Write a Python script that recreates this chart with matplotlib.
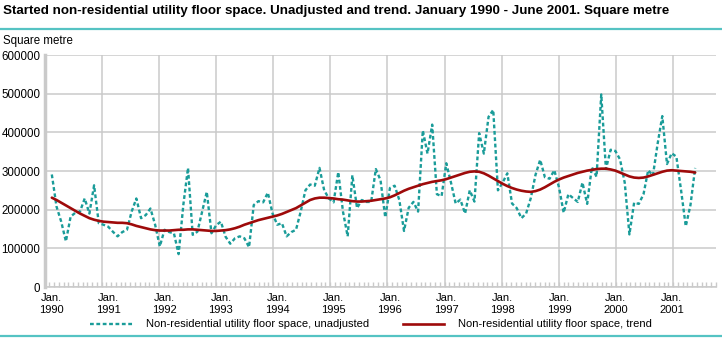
import matplotlib
matplotlib.use("Agg")
import matplotlib.pyplot as plt
from matplotlib import font_manager
from matplotlib.lines import Line2D
import numpy as np

# monthly values, 1000 square metre, January 1990 - June 2001
unadjusted = [
    291, 208, 169, 118, 182, 192, 195, 229, 190, 263, 165, 161,   # 1990
    156, 143, 131, 142, 148, 195, 229, 178, 186, 203, 161, 105,   # 1991
    148, 142, 139, 85, 212, 308, 135, 143, 195, 246, 139, 160,    # 1992
    169, 130, 112, 126, 131, 126, 103, 212, 222, 219, 244, 190,   # 1993
    161, 165, 131, 142, 148, 195, 250, 265, 262, 308, 250, 229,   # 1994
    219, 297, 195, 131, 289, 204, 225, 220, 220, 305, 276, 180,   # 1995
    256, 262, 225, 145, 205, 220, 195, 405, 345, 420, 240, 235,   # 1996
    320, 270, 216, 226, 190, 250, 221, 398, 345, 440, 458, 250,   # 1997
    270, 294, 216, 204, 178, 190, 230, 290, 329, 284, 280, 302,   # 1998
    258, 192, 240, 230, 220, 270, 215, 310, 285, 498, 305, 355,   # 1999
    352, 330, 270, 136, 218, 215, 240, 302, 288, 370, 442, 318,   # 2000
    346, 337, 250, 157, 212, 308,                                 # 2001
]
trend = [
    231, 225, 218, 211, 204, 197, 190, 184, 178, 174, 171, 169,
    168, 167, 166, 166, 165, 162, 158, 155, 152, 149, 147, 146,
    146, 146, 147, 148, 148, 149, 149, 148, 147, 146, 145, 145,
    146, 147, 149, 152, 156, 161, 165, 169, 173, 176, 179, 182,
    185, 189, 194, 199, 204, 211, 218, 225, 229, 231, 231, 230,
    229, 227, 226, 224, 222, 221, 221, 222, 223, 225, 227, 229,
    232, 237, 243, 249, 254, 258, 262, 266, 269, 272, 274, 276,
    279, 283, 287, 291, 295, 298, 299, 298, 294, 288, 281, 274,
    267, 261, 256, 252, 249, 247, 246, 248, 252, 258, 265, 272,
    278, 283, 287, 291, 295, 298, 301, 303, 305, 306, 306, 304,
    301, 296, 291, 286, 283, 282, 283, 286, 290, 294, 298, 301,
    302, 301, 300, 299, 298, 296,
]
years = list(range(1990, 2002))
yTicks = [0, 100000, 200000, 300000, 400000, 500000, 600000]

titleText = ("Started non-residential utility floor space. Unadjusted and trend. "
             "January 1990 - June 2001. Square metre")
labelUnadj = "Non-residential utility floor space, unadjusted"
labelTrend = "Non-residential utility floor space, trend"

TEAL = '#1a9c99'
RED = '#9e0a0a'
GRID = '#cacaca'
RULE = '#55c3c3'


def pickFont(*names):
    for n in names:
        try:
            font_manager.findfont(n, fallback_to_default=False)
            return n
        except ValueError:
            pass
    return 'DejaVu Sans'


sansFont = pickFont('Liberation Sans', 'Arial')
narrowFont = pickFont('Liberation Sans Narrow', 'Liberation Sans')
plt.rcParams['font.family'] = sansFont

W, H = 722, 353
fig = plt.figure(figsize=(W / 100, H / 100), dpi=100)
left, right, top, bottom = 44.5, 716, 55, 287
ax = fig.add_axes([left / W, 1 - bottom / H, (right - left) / W, (bottom - top) / H])

months = np.arange(len(unadjusted))
unadjVals = np.array(unadjusted) * 1000
trendVals = np.array(trend) * 1000

# the year grid of the original is a little wider than the data spacing
gridStep = 12.17
gridStart = -1.56
ax.set_xlim(gridStart, 137.9)
ax.set_ylim(0, 600000)

gridPos = gridStart + gridStep * np.arange(1, len(years))
ax.vlines(gridPos, 0, 600000, color=GRID, lw=1.1, zorder=1)
ax.set_yticks(yTicks)
ax.set_yticklabels([str(v) for v in yTicks], fontsize=8.3)
ax.yaxis.grid(True, color=GRID, lw=1.1, zorder=1)
ax.set_axisbelow(True)

ax.plot(months, unadjVals, color=TEAL, lw=1.7, dashes=(1.6, 1.1), zorder=3)
ax.plot(months, trendVals, color=RED, lw=1.9, zorder=4, solid_capstyle='round')

ax.set_xticks([12 * k for k in range(len(years))])
ax.set_xticklabels(['Jan.\n%d' % y for y in years], fontsize=8, family=narrowFont,
                   linespacing=1.25)
ax.set_xticks(gridStart + gridStep / 12 * np.arange(1, 12 * len(years) - 2), minor=True)
ax.tick_params(axis='x', which='major', length=0, pad=4)
ax.tick_params(axis='x', which='minor', direction='in', length=3.5, width=1, color=GRID)
ax.tick_params(axis='y', length=0, pad=3)

for s in ['top', 'right']:
    ax.spines[s].set_visible(False)
ax.spines['left'].set_color(GRID)
ax.spines['left'].set_linewidth(2.5)
ax.spines['bottom'].set_color(GRID)
ax.spines['bottom'].set_linewidth(1.1)

# header, unit and rules
title = fig.text(3 / W, 1 - 11 / H, titleText, fontsize=10, fontweight='bold',
                 va='center', ha='left')
fig.canvas.draw()
w = title.get_window_extent().width
title.set_fontsize(10 * 669 / w)
fig.add_artist(Line2D([0, 1], [1 - 28.5 / H] * 2, color=RULE, lw=1.6))
fig.add_artist(Line2D([0, 1], [1 - 336 / H] * 2, color=RULE, lw=1.6))
fig.text(3 / W, 1 - 41 / H, 'Square metre', fontsize=8.3, va='center', ha='left')

# legend
ly = 1 - 324 / H
fig.add_artist(Line2D([90 / W, 134 / W], [ly, ly], color=TEAL, lw=1.7, dashes=(1.6, 1.1)))
fig.text(146 / W, ly, labelUnadj, fontsize=8, family=narrowFont, va='center', ha='left')
fig.add_artist(Line2D([403 / W, 444 / W], [ly, ly], color=RED, lw=1.9))
fig.text(458 / W, ly, labelTrend, fontsize=8, family=narrowFont, va='center', ha='left')

fig.savefig('out.png', dpi=100)
